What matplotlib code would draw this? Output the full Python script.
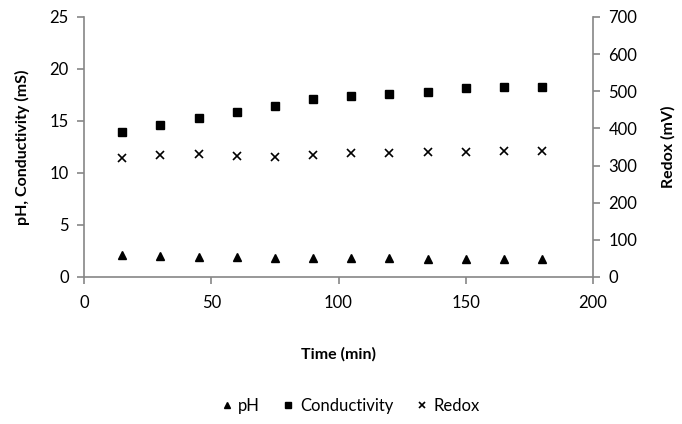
import matplotlib.pyplot as plt
from matplotlib.lines import Line2D

# data
time = [15, 30, 45, 60, 75, 90, 105, 120, 135, 150, 165, 180]
ph = [2.1, 2.0, 1.95, 1.9, 1.85, 1.85, 1.8, 1.8, 1.75, 1.75, 1.75, 1.7]
conductivity = [13.9, 14.6, 15.3, 15.9, 16.4, 17.1, 17.4, 17.6, 17.8, 18.2, 18.3, 18.3]
redox = [320, 328, 331, 326, 324, 329, 335, 334, 337, 337, 340, 339]

plt.rcParams['font.family'] = ['Lato', 'DejaVu Sans']
grey = '#868686'

fig = plt.figure(figsize=(6.82, 4.24), dpi=100)
ax1 = fig.add_axes([0.1232, 0.3467, 0.7463, 0.6133])
ax2 = ax1.twinx()

ax1.plot(time, ph, linestyle='none', marker='^', color='black', markersize=6, label='pH')
ax1.plot(time, conductivity, linestyle='none', marker='s', color='black', markersize=6, label='Conductivity')
ax2.plot(time, redox, linestyle='none', marker='x', color='black', markersize=6, markeredgewidth=1.2, label='Redox')

ax1.set_xlim(0, 200)
ax1.set_ylim(0, 25)
ax2.set_ylim(0, 700)
ax1.set_xticks([0, 50, 100, 150, 200])
ax1.set_yticks([0, 5, 10, 15, 20, 25])
ax2.set_yticks(range(0, 701, 100))

for ax in (ax1, ax2):
    ax.spines['top'].set_visible(False)
    for s in ax.spines.values():
        s.set_color(grey)
        s.set_linewidth(1.2)
    ax.tick_params(colors=grey, labelcolor='black', labelsize=12, length=5, width=1.2)
ax1.spines['right'].set_visible(False)
ax2.spines['left'].set_visible(False)
ax2.spines['bottom'].set_visible(False)
ax1.tick_params(axis='y', pad=6)
ax2.tick_params(axis='y', pad=6)
ax1.tick_params(axis='x', pad=8)

ax1.set_xlabel('Time (min)', fontsize=11.5, fontweight='bold', labelpad=26)
ax1.set_ylabel('pH, Conductivity (mS)', fontsize=11.5, fontweight='bold', labelpad=14)
ax2.set_ylabel('Redox (mV)', fontsize=11.5, fontweight='bold', labelpad=17)

handles = [
    Line2D([], [], linestyle='none', marker='^', color='black', markersize=5),
    Line2D([], [], linestyle='none', marker='s', color='black', markersize=5),
    Line2D([], [], linestyle='none', marker='x', color='black', markersize=5, markeredgewidth=1.2),
]
fig.legend(handles, ['pH', 'Conductivity', 'Redox'], loc='center', bbox_to_anchor=(0.513, 0.042),
           ncol=3, frameon=False, fontsize=12, handlelength=0.8, handletextpad=0.3, columnspacing=1.3)

fig.savefig('out.png', dpi=100)
